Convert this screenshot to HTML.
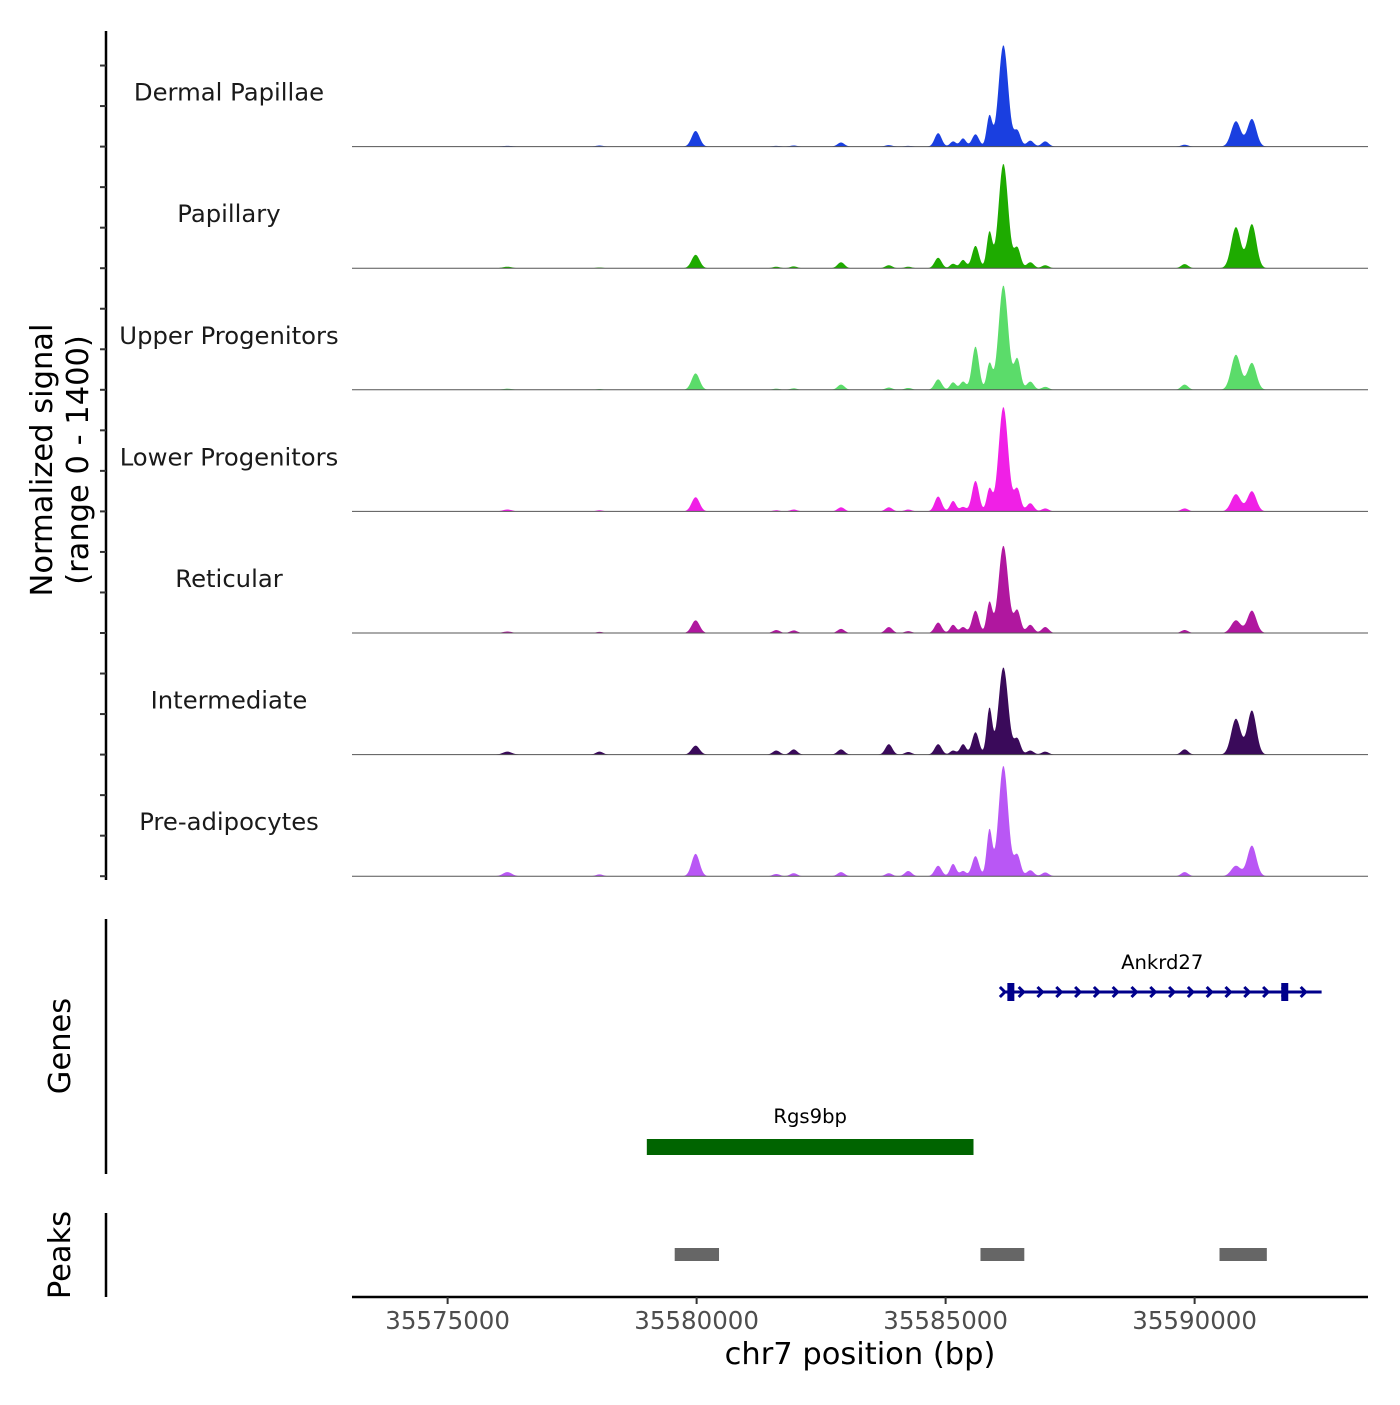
<!DOCTYPE html>
<html><head><meta charset="utf-8"><style>
html,body{margin:0;padding:0;background:#fff;}
svg text{font-family:"DejaVu Sans","Liberation Sans",sans-serif;}
</style></head><body>
<svg id="chart" width="1400" height="1400" viewBox="0 0 1400 1400" xmlns="http://www.w3.org/2000/svg"></svg>
<script>
// ---- data ----
const trackNames = ["Dermal Papillae","Papillary","Upper Progenitors","Lower Progenitors","Reticular","Intermediate","Pre-adipocytes"];
const trackColors = ["#1a3fe0","#1eab00","#5bdc6a","#f020e6","#b0179f","#3a0a5a","#b957f5"];
// peak centres (bp)
const peakPos = [35579980,35582900,35583860,35584850,35585150,35585350,35585600,35585880,35586160,35586440,35586700,35587000,35589800,35590830,35591150,35576200,35578050,35581600,35581950,35584250];
const peakWidth = [80,70,70,70,60,60,70,55,95,65,70,70,70,95,90,90,70,70,70,70];
// peak heights (signal, 0-1400) per track
const sigDermal   = [210,55,20,180,70,110,165,410,1360,210,80,70,25,340,370,10,15,10,15,10];
const sigPapillary= [180,80,40,140,60,110,300,480,1400,270,80,40,55,550,590,20,10,20,25,20];
const sigUpper    = [220,70,30,140,100,110,580,350,1400,410,110,40,70,470,360,15,10,15,20,25];
const sigLower    = [190,55,55,200,140,60,410,300,1400,300,110,40,40,230,270,25,15,15,25,25];
const sigReticular= [170,55,80,140,110,80,300,410,1170,300,110,80,40,170,300,20,15,40,35,25];
const sigInterm   = [120,70,140,140,55,140,300,620,1170,210,55,40,70,480,590,40,40,55,70,35];
const sigPreadipo = [300,55,40,140,165,70,270,620,1480,280,80,50,55,140,410,55,25,30,40,70];
const trackSignals = [sigDermal,sigPapillary,sigUpper,sigLower,sigReticular,sigInterm,sigPreadipo];
const xTicks = [35575000,35580000,35585000,35590000];
const genes = [
  {name:"Ankrd27", start:35586150, end:35592550, strand:"+", row:0, exons:[35586300,35591800]},
  {name:"Rgs9bp", start:35579000, end:35585560, strand:"+", row:1, exons:[]}
];
const peakRegions = [[35579560,35580450],[35585700,35586580],[35590500,35591450]];

// ---- scales ----
const X0=352, X1=1368, BP0=35573080, PXPERBP=249/5000;
const xs = bp => X0 + (bp-BP0)*PXPERBP;
const trackH = 121.6, trackTop = 25;
const ys = (t,v) => trackTop + trackH*(t+1) - v/1400*trackH*0.86;

const svg = document.getElementById('chart');
const NS="http://www.w3.org/2000/svg";
function mk(tag, attrs, parent){const e=document.createElementNS(NS,tag);for(const k in attrs)e.setAttribute(k,attrs[k]);(parent||svg).appendChild(e);return e;}

// tracks
trackSignals.forEach((sig,t)=>{
  const g=mk('g',{});
  
  
  const base = trackTop + trackH*(t+1);
  let d = `M${X0},${base}`;
  for(let px=X0; px<=X1; px+=1){
    const bp = BP0 + (px-X0)/PXPERBP;
    let v=0;
    for(let i=0;i<peakPos.length;i++){const z=(bp-peakPos[i])/peakWidth[i]; v+=sig[i]*Math.exp(-0.5*z*z);}
    d += `L${px},${ys(t,v).toFixed(2)}`;
  }
  d += `L${X1},${base}Z`;
  const p=mk('path',{d:d,fill:trackColors[t]},g);
  
  
  const bl=mk('line',{x1:X0,x2:X1,y1:base,y2:base,stroke:'#555','stroke-width':1},g);
  
  
  const lab=mk('text',{x:229,y:base-46,'text-anchor':'middle','font-size':24.3,fill:'#1a1a1a'},g);
  lab.textContent=trackNames[t];
  
  
});

// left axis
const ax=mk('line',{x1:106,x2:106,y1:31,y2:880,stroke:'#000','stroke-width':2.5});


for(let t=0;t<7;t++){for(let k=0;k<3;k++){
  const y=trackTop+trackH*(t+1)-k*trackH/3;
  const tk=mk('line',{x1:100,x2:106,y1:y,y2:y,stroke:'#333','stroke-width':2});
  
  
}}
const yt=mk('text',{transform:'translate(52,460) rotate(-90)','text-anchor':'middle','font-size':30.5,fill:'#000'});


yt.innerHTML='<tspan x="0" dy="0">Normalized signal</tspan><tspan x="0" dy="36">(range 0 - 1400)</tspan>';

// genes
const gl=mk('line',{x1:106,x2:106,y1:919,y2:1174,stroke:'#000','stroke-width':2.5});


const gt=mk('text',{transform:'translate(70,1046) rotate(-90)','text-anchor':'middle','font-size':30.5});
gt.textContent='Genes';


genes.forEach(gn=>{
  const g=mk('g',{});
  
  
  const y = gn.row===0?992:1147;
  const x1=xs(gn.start), x2=xs(gn.end);
  if(gn.row===0){
    mk('line',{x1:x1,x2:x2,y1:y,y2:y,stroke:'#00008b','stroke-width':3},g);
    for(let x=x1; x<=x2; x+=18.8){mk('path',{d:`M${x-3},${y-5}L${x+2},${y}L${x-3},${y+5}`,fill:'none',stroke:'#00008b','stroke-width':3},g);}
    gn.exons.forEach(e=>mk('rect',{x:xs(e)-3,y:y-9,width:7,height:18,fill:'#00008b'},g));
    const t=mk('text',{x:(x1+x2)/2,y:y-23,'text-anchor':'middle','font-size':19.6},g);t.textContent=gn.name;
  } else {
    mk('rect',{x:x1,y:y-8,width:x2-x1,height:16,fill:'#006400'},g);
    const t=mk('text',{x:(x1+x2)/2,y:y-24,'text-anchor':'middle','font-size':19.6},g);t.textContent=gn.name;
  }
});

// peaks
const pl=mk('line',{x1:106,x2:106,y1:1213,y2:1297,stroke:'#000','stroke-width':2.5});


const pt=mk('text',{transform:'translate(70,1255) rotate(-90)','text-anchor':'middle','font-size':30.5});
pt.textContent='Peaks';


peakRegions.forEach(r=>{
  const rc=mk('rect',{x:xs(r[0]),y:1248,width:xs(r[1])-xs(r[0]),height:13,fill:'#666'});
  
  
});

// x axis
const xa=mk('line',{x1:X0,x2:X1,y1:1297,y2:1297,stroke:'#000','stroke-width':2.5});


xTicks.forEach(v=>{
  const tk=mk('line',{x1:xs(v),x2:xs(v),y1:1297,y2:1304,stroke:'#333','stroke-width':2});
  
  
  const tl=mk('text',{x:xs(v),y:1329,'text-anchor':'middle','font-size':24.5,fill:'#4d4d4d'});
  tl.textContent=v;
  
  
});
const xt=mk('text',{x:860,y:1364,'text-anchor':'middle','font-size':30.5});
xt.textContent='chr7 position (bp)';


</script>
</body></html>
